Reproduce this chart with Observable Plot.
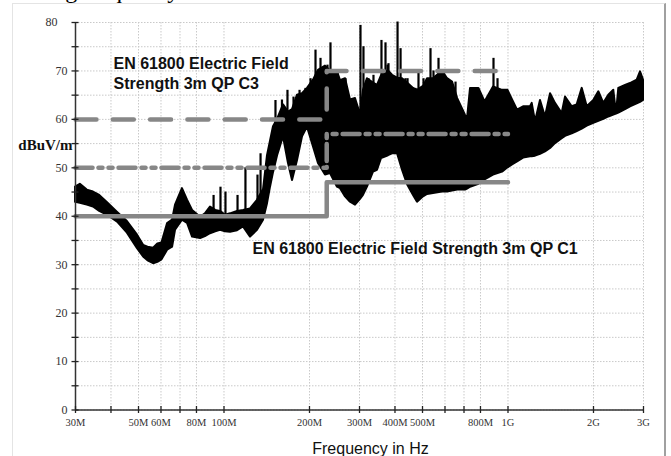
<!DOCTYPE html>
<html><head><meta charset="utf-8">
<script src="https://cdn.jsdelivr.net/npm/d3@7"></script>
<script src="https://cdn.jsdelivr.net/npm/@observablehq/plot@0.6"></script>
<style>
html,body{margin:0;padding:0;background:#fff;}
#wrap{position:relative;width:671px;height:456px;overflow:hidden;}
#frame{position:absolute;left:12px;top:3px;width:651px;height:470px;border-top:1px solid #e4e4e4;border-left:1px solid #e4e4e4;border-right:2px solid #a0a0a0;}
#title{position:absolute;left:0;top:0;height:3px;width:671px;overflow:hidden;}
#title span{position:absolute;left:7px;top:-23px;font:24px "Liberation Serif",serif;white-space:nowrap;color:#000;}
#chart{position:absolute;left:0;top:0;}
</style></head>
<body>
<div id="wrap">
  <div id="title"><span>Testing frequency</span></div>
  <div id="frame"></div>
  <div id="chart"></div>
</div>
<script>
// ---- axis ticks (MHz) ----
const xTicks = [30,40,50,60,70,80,100,200,300,400,500,600,700,800,1000,2000,3000];
const xLabels = [30,50,60,80,100,200,300,400,500,800,1000,2000,3000];
const yTicks = [0,5,10,15,20,25,30,35,40,45,50,55,60,65,70,75,80];
const yLabels = [0,10,20,30,40,50,60,70];
const yTopLabel = [80];

// ---- limit lines (EN 61800 3m QP) ----
const limitFreq = [30, 230, 230, 1000];
const limitC1 = [40, 40, 47, 47];
const limitC2 = [50, 50, 57, 57];
const limitC3 = [60, 60, 70, 70];

// ---- measured trace envelope (MHz, dBuV/m) ----
const traceFreq = [30.0,31.2,33.0,34.7,36.5,38.9,42.2,45.7,49.6,52.1,54.0,56.5,58.5,60.5,63.3,65.9,67.5,71.4,74.4,77.5,82.7,86.0,89.6,93.5,97.2,101.2,105.4,111.6,117.1,124.0,131.2,137.8,
  142.3,145.8,149.4,154.4,162.0,168.7,174.3,181.5,189.0,196.8,206.6,215.1,227.7,
  237.1,251.0,257.2,267.9,278.9,290.4,302.4,309.8,320.0,336.0,347.1,358.5,379.5,392.1,408.4,425.2,442.9,464.9,480.2,504.1,520.8,546.6,588.0,612.4,637.8,665.0,708.7,720.0,738.1,790.0,830.0,889.1,956.6,1000.0,
  1037.5,1080.5,1134.5,1200.3,1216.8,1249.8,1301.4,1355.1,1411.8,1469.4,1551.6,1593.9,1683.0,1752.6,1825.2,1901.0,2004.9,2088.0,2174.4,2264.4,2358.0,2410.0,2455.5,2593.0,2700.0,2850.6,2927.8,3000.0];
const traceLow = [42.9,42.7,42.3,41.9,41.0,40.2,38.8,36.5,33.3,31.6,30.8,30.2,30.5,31.0,33.0,33.6,37.1,39.2,38.5,35.7,35.4,35.8,36.4,36.8,37.1,36.8,36.7,37.0,37.8,35.7,37.1,39.2,
  42.6,46.0,49.0,52.5,56.4,50.9,47.4,51.5,56.4,58.4,54.3,50.9,48.5,
  48.8,46.0,45.7,44.0,42.9,42.3,43.5,44.3,46.0,49.1,49.5,51.9,52.5,52.9,52.9,49.5,46.5,44.3,42.9,44.0,44.5,44.7,45.0,45.0,45.2,45.4,45.4,45.6,46.0,46.6,47.5,48.5,49.1,50.0,
  50.6,51.2,52.0,52.3,52.3,52.4,52.8,53.3,54.0,55.0,56.0,56.5,57.0,57.5,58.0,58.6,59.2,59.6,60.0,60.5,60.9,61.1,61.3,62.0,62.6,63.2,63.5,63.9];
const traceHigh = [46.0,46.6,45.4,45.0,44.3,42.8,40.8,38.9,36.1,34.0,33.6,33.4,34.3,34.5,38.5,39.2,42.3,45.7,43.3,41.2,39.8,40.5,41.9,41.2,41.0,40.2,40.5,41.0,41.2,41.5,43.3,45.5,
  52.5,55.5,58.5,60.0,63.0,61.5,62.0,65.0,65.3,66.4,68.1,70.1,71.0,
  70.0,69.8,68.0,68.4,64.0,64.3,61.0,66.0,68.4,67.5,67.0,69.0,70.0,69.1,68.5,68.4,67.5,66.4,66.0,66.8,68.4,68.4,70.0,68.4,67.7,64.3,60.8,60.0,66.4,66.4,63.6,66.7,66.0,66.0,
  64.0,61.9,62.6,62.6,63.3,59.5,63.9,60.5,65.3,63.3,61.2,64.6,62.6,63.0,66.4,62.6,63.9,65.7,63.3,65.0,66.0,61.2,66.4,67.0,67.4,68.1,69.8,68.1];

// ---- narrow spikes rising above the envelope ----
const spikeFreq = [91.9,97.2,101.2,111.6,119.0,131.2,134.5,151.8,160.0,167.3,175.7,184.5,193.6,201.7,210.0,218.7,231.4,237.1,251.0,267.9,285.8,302.4,309.8,322.8,336.0,358.5,370.4,376.6,379.5,408.4,418.5,435.5,442.9,472.4,484.0,504.1,533.5,546.6,569.3,588.0,612.4,653.5,889.1,918.5];
const spikeLow  = [40,40,39.5,40,40,41,42,56,58,58,58,62,62,64,66,66,66,68,66,66,62,60,62,66,66,66,66,66,66,66,66,66,66,64,64,64,66,66,66,66,66,64,64,64];
const spikeHigh = [44.3,46.0,45.0,44.3,50.0,48.5,52.9,63.9,64.0,66.0,64.6,66.0,66.4,68.4,74.3,72.6,71.2,75.8,70.0,68.4,64.3,79.4,75.0,68.4,69.1,76.3,75.8,71.2,71.5,80.1,74.6,68.4,68.4,66.4,69.8,68.4,74.6,70.0,72.6,70.0,68.4,67.7,72.6,68.4];

const trace = traceFreq.map((f, i) => ({f, lo: traceLow[i], hi: traceHigh[i]}));
const spikes = spikeFreq.map((f, i) => ({f, lo: spikeLow[i], hi: spikeHigh[i]}));
const limits = limitFreq.map((f, i) => ({f, c1: limitC1[i], c2: limitC2[i], c3: limitC3[i]}));

const fmt = d => d >= 1000 ? (d / 1000) + "G" : d + "M";
const serif = '"Liberation Serif", "Times New Roman", serif';
const sans = '"Liberation Sans", Arial, sans-serif';
const limitGray = "#878787";
const gridStyle = {stroke: "#c9c9c9", strokeOpacity: 1, strokeWidth: 1, strokeDasharray: "1.5,1.5"};

const chart = Plot.plot({
  width: 671,
  height: 456,
  marginLeft: 75,
  marginRight: 28,
  marginTop: 22,
  marginBottom: 46.5,
  style: {background: "transparent", overflow: "visible"},
  x: {type: "log", domain: [30, 3000], axis: null},
  y: {domain: [0, 80], axis: null},
  marks: [
    Plot.gridY(yTicks, gridStyle),
    Plot.gridX(xTicks, gridStyle),
    Plot.areaY(trace, {x: "f", y1: "lo", y2: "hi", fill: "#000", stroke: "#000", strokeWidth: 2, strokeLinejoin: "round"}),
    Plot.ruleX(spikes, {x: "f", y1: "lo", y2: "hi", stroke: "#000", strokeWidth: 2.2}),
    Plot.line(limits, {x: "f", y: "c3", stroke: limitGray, strokeWidth: 4.5, strokeDasharray: "21,16.3"}),
    Plot.line(limits, {x: "f", y: "c2", stroke: limitGray, strokeWidth: 4.5, strokeDasharray: "17,6,4,6,4,6"}),
    Plot.line(limits, {x: "f", y: "c1", stroke: limitGray, strokeWidth: 4.5}),
    Plot.ruleX([30], {stroke: "#333", strokeWidth: 1.5}),
    Plot.ruleY([0], {stroke: "#333", strokeWidth: 1.5}),
    Plot.axisY(yTicks, {tickSize: 7, dx: 3.5, fill: "none", stroke: "#222", strokeWidth: 1.3, label: null}),
    Plot.axisY(yLabels, {tickSize: 0, tickPadding: 8, fontFamily: serif, fontSize: 12, fill: "#333", label: null}),
    Plot.axisY(yTopLabel, {tickSize: 0, tickPadding: 18, fontFamily: serif, fontSize: 12, fill: "#333", label: null}),
    Plot.axisX(xTicks, {tickSize: 7, dy: -3.5, fill: "none", stroke: "#222", strokeWidth: 1.3, label: null}),
    Plot.text(xLabels, {x: d => d, text: fmt, frameAnchor: "bottom", lineAnchor: "top", dy: 9, fontFamily: serif, fontSize: 10.5, fill: "#333"}),
    Plot.text(["dBuV/m"], {frameAnchor: "top-left", textAnchor: "end", dx: -3, dy: 117, fontFamily: serif, fontWeight: "bold", fontSize: 15, fill: "#111"}),
    Plot.text(["EN 61800 Electric Field\nStrength 3m QP C3"], {frameAnchor: "top-left", textAnchor: "start", lineAnchor: "middle", lineHeight: 1.25, dx: 38, dy: 50, fontFamily: sans, fontWeight: "bold", fontSize: 16, fill: "#111"}),
    Plot.text(["EN 61800 Electric Field Strength 3m QP C1"], {frameAnchor: "top-left", textAnchor: "start", lineAnchor: "middle", dx: 177, dy: 226, fontFamily: sans, fontWeight: "bold", fontSize: 16, fill: "#111"}),
    Plot.text(["Frequency in Hz"], {frameAnchor: "bottom", textAnchor: "middle", lineAnchor: "middle", dx: 11, dy: 38.5, fontFamily: sans, fontSize: 16, fill: "#111"})
  ]
});
document.getElementById("chart").appendChild(chart);
</script>
</body></html>
